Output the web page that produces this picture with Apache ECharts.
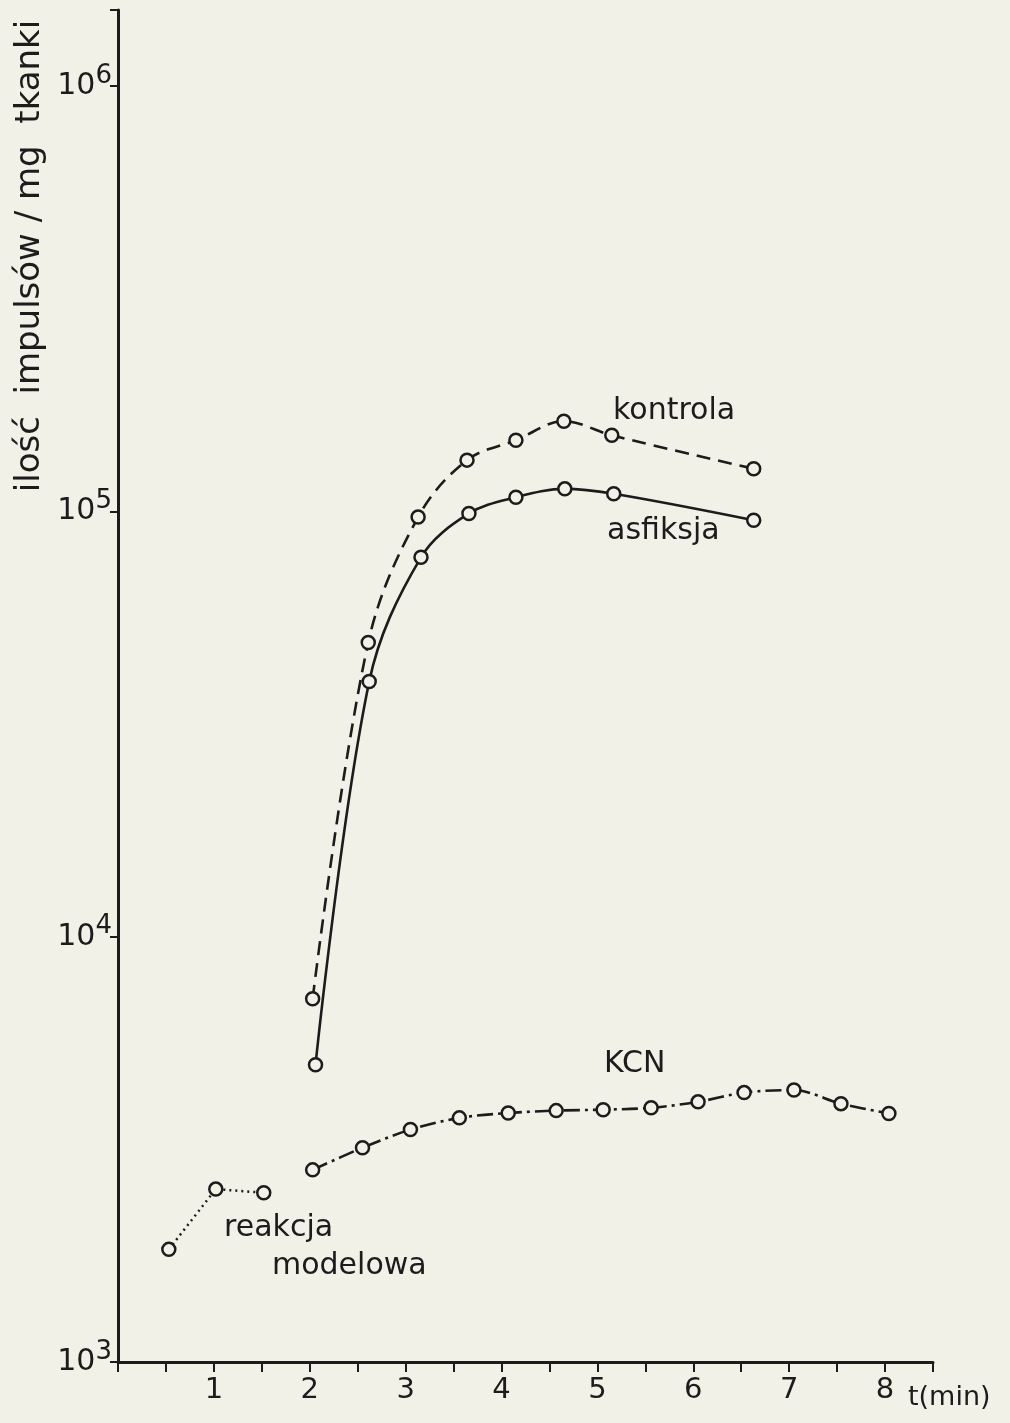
<!DOCTYPE html>
<html>
<head>
<meta charset="utf-8">
<script src="https://cdn.jsdelivr.net/npm/echarts@6/dist/echarts.min.js"></script>
<style>
  html, body { margin: 0; padding: 0; background: #f2f1e8; }
  #chart { width: 1010px; height: 1423px; }
</style>
</head>
<body>
<div id="chart"></div>
<script>
// values (t in min, counts per mg tissue)
const kontrolaT = [2.03, 2.61, 3.13, 3.64, 4.15, 4.65, 5.15, 6.63];
const kontrolaV = [7150, 49200, 97000, 132000, 147000, 163000, 151000, 126000];

const asfiksjaT = [2.06, 2.62, 3.16, 3.66, 4.15, 4.66, 5.17, 6.63];
const asfiksjaV = [5000, 39800, 78000, 98900, 108000, 113000, 110000, 95300];

const kcnT = [2.03, 2.55, 3.05, 3.56, 4.07, 4.57, 5.06, 5.56, 6.05, 6.53, 7.05, 7.54, 8.04];
const kcnV = [2830, 3190, 3520, 3750, 3850, 3900, 3920, 3960, 4090, 4300, 4360, 4050, 3840];

const modelT = [0.53, 1.02, 1.52];
const modelV = [1840, 2550, 2500];

const ink = '#1c1c1c';
const bg = '#f2f1e8';
const font = 'DejaVu Sans';

const pairs = (xs, ys) => xs.map((x, i) => [x, ys[i]]);

const lineSeries = (name, data, type, width, smooth) => ({
  name: name,
  type: 'line',
  data: data,
  smooth: smooth,
  symbol: 'circle',
  symbolSize: 13,
  itemStyle: { color: bg, borderColor: ink, borderWidth: 2.5 },
  lineStyle: { color: ink, width: width, type: type },
  z: 3,
});

const label = (text, x, y, size) => ({
  type: 'text',
  x: x,
  y: y,
  style: { text: text, font: size + 'px "' + font + '"', fill: ink, align: 'left', verticalAlign: 'middle' },
});

const myChart = echarts.init(document.getElementById('chart'));
const option = {
  backgroundColor: bg,
  animation: false,
  grid: { left: 118, right: 77, top: 10, bottom: 61 },
  xAxis: {
    type: 'value',
    min: 0,
    max: 8.5,
    interval: 0.5,
    splitLine: { show: false },
    axisLine: { lineStyle: { color: ink, width: 3 } },
    axisTick: { length: 10, lineStyle: { color: ink, width: 2 } },
    axisLabel: {
      color: ink,
      fontFamily: font,
      fontSize: 29,
      margin: 14,
      formatter: v => (v >= 1 && Number.isInteger(v) ? String(v) : ''),
    },
  },
  yAxis: {
    type: 'log',
    logBase: 10,
    min: 1000,
    max: 1510000,
    splitLine: { show: false },
    axisLine: { lineStyle: { color: ink, width: 3 } },
    axisTick: { length: 8, lineStyle: { color: ink, width: 2 } },
    axisLabel: {
      color: ink,
      fontFamily: font,
      fontSize: 30,
      margin: 6,
      formatter: v => {
        const e = Math.round(Math.log10(v));
        return Math.abs(Math.log10(v) - e) < 1e-6 ? '10{s|' + e + '}' : '';
      },
      rich: {
        s: { fontFamily: font, fontSize: 26, color: ink, padding: [0, 0, 20, 0] },
      },
    },
  },
  series: [
    lineSeries('kontrola', pairs(kontrolaT, kontrolaV), [14, 8], 2.6, 0.35),
    lineSeries('asfiksja', pairs(asfiksjaT, asfiksjaV), 'solid', 2.6, 0.35),
    lineSeries('KCN', pairs(kcnT, kcnV), [16, 5, 3, 5], 2.6, 0.3),
    lineSeries('reakcja modelowa', pairs(modelT, modelV), [2, 4], 2.5, false),
  ],
  graphic: [
    {
      type: 'text',
      x: 30,
      y: 256,
      rotation: Math.PI / 2,
      style: {
        text: 'ilość  impulsów / mg  tkanki',
        font: '34px "' + font + '"',
        fill: ink,
        align: 'center',
        verticalAlign: 'middle',
      },
    },
    label('t(min)', 908, 1398, 27),
    label('kontrola', 613, 411, 30),
    label('asfiksja', 607, 531, 30),
    label('KCN', 604, 1064, 30),
    label('reakcja', 224, 1228, 30),
    label('modelowa', 272, 1266, 30),
  ],
};
myChart.setOption(option);
</script>
</body>
</html>
